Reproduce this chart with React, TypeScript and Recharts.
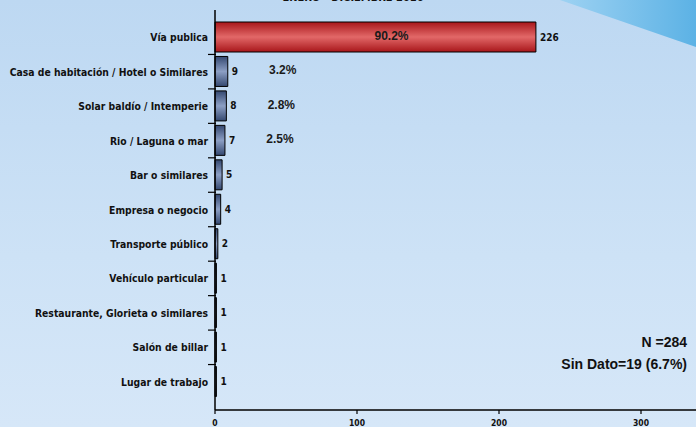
import { BarChart, Bar, XAxis, YAxis, Cell, LabelList } from "recharts";

const categories = [
  "Vía publica",
  "Casa de habitación / Hotel o Similares",
  "Solar baldío / Intemperie",
  "Rio / Laguna o mar",
  "Bar o similares",
  "Empresa o negocio",
  "Transporte público",
  "Vehículo particular",
  "Restaurante, Glorieta o similares",
  "Salón de billar",
  "Lugar de trabajo",
];
const values = [226, 9, 8, 7, 5, 4, 2, 1, 1, 1, 1];
const percents = ["90.2%", "3.2%", "2.8%", "2.5%", "", "", "", "", "", "", ""];
const xTicks = [0, 100, 200, 300];
const title = "ENERO - DICIEMBRE 2016";
const notes = ["N =284", "Sin Dato=19 (6.7%)"];

const data = categories.map((name, i) => ({ name, value: values[i], pct: percents[i] }));

const labelFont = "'DejaVu Sans Condensed', 'DejaVu Sans', sans-serif";
const noteFont = "'Liberation Sans', Arial, sans-serif";

const CategoryTick = (props: any) => {
  const { x, y, payload, index, visibleTicksCount } = props;
  const half = payload && payload.offset ? payload.offset : 17.2;
  return (
    <g>
      <text
        x={x}
        y={y}
        dy={4}
        textAnchor="end"
        fontFamily={labelFont}
        fontWeight="bold"
        fontSize={10.3}
        fill="#111"
      >
        {payload.value}
      </text>
      {index < visibleTicksCount - 1 && (
        <line x1={x} x2={x + 8} y1={y + half} y2={y + half} stroke="#000" strokeWidth={1.2} />
      )}
    </g>
  );
};

const PercentLabel = (props: any) => {
  const { x, y, width, height, value, index } = props;
  if (!value) return null;
  const cx = index === 0 ? x + width * 0.55 : x + width + 55;
  return (
    <text
      x={cx}
      y={y + height / 2 - 1}
      dy={4}
      textAnchor="middle"
      fontFamily={noteFont}
      fontWeight="bold"
      fontSize={12}
      fill="#1a1a1a"
    >
      {value}
    </text>
  );
};

export default function App() {
  return (
    <div
      style={{
        position: "fixed",
        left: 0,
        top: 0,
        width: 696,
        height: 427,
        overflow: "hidden",
        background: "linear-gradient(180deg, #bdd8f2 0%, #cde2f6 60%, #d6e7f8 100%)",
      }}
    >
      <div
        style={{
          position: "absolute",
          left: 0,
          top: 0,
          width: 696,
          height: 60,
          background: "linear-gradient(90deg, #a6d6f4 78%, #5cb2e5 100%)",
          clipPath: "polygon(560px 0, 696px 0, 696px 47px)",
        }}
      />
      <div
        style={{
          position: "absolute",
          left: 0,
          width: 706,
          top: -9,
          textAlign: "center",
          fontFamily: labelFont,
          fontWeight: "bold",
          fontSize: 11,
          color: "#111",
        }}
      >
        {title}
      </div>
      <div style={{ position: "absolute", left: 0, top: 0 }}>
        <BarChart
          width={712}
          height={427}
          data={data}
          layout="vertical"
          margin={{ top: 10, right: 0, bottom: 0, left: 0 }}
        >
          <defs>
            <linearGradient id="redGrad" x1="0" y1="0" x2="0" y2="1">
              <stop offset="0%" stopColor="#a8161a" />
              <stop offset="50%" stopColor="#e26868" />
              <stop offset="100%" stopColor="#a8161a" />
            </linearGradient>
            <linearGradient id="blueGrad" x1="0" y1="0" x2="0" y2="1">
              <stop offset="0%" stopColor="#344870" />
              <stop offset="50%" stopColor="#8c9fc4" />
              <stop offset="100%" stopColor="#344870" />
            </linearGradient>
          </defs>
          <XAxis
            type="number"
            domain={[0, 350]}
            ticks={xTicks}
            height={17}
            tickSize={4}
            tickMargin={6}
            axisLine={{ stroke: "#000", strokeWidth: 1.5 }}
            tickLine={{ stroke: "#000", strokeWidth: 1.2 }}
            tick={{ fill: "#111", fontSize: 8.5, fontWeight: "bold", fontFamily: labelFont }}
          />
          <XAxis
            xAxisId="top"
            orientation="top"
            type="number"
            domain={[0, 350]}
            height={0}
            tick={false}
            tickLine={false}
            axisLine={{ stroke: "#000", strokeWidth: 1.5 }}
          />
          <YAxis
            type="category"
            dataKey="name"
            width={215}
            padding={{ top: 10, bottom: 11 }}
            tickLine={false}
            tickSize={0}
            tickMargin={7}
            interval={0}
            axisLine={{ stroke: "#000", strokeWidth: 1.5 }}
            tick={<CategoryTick />}
          />
          <Bar dataKey="value" barSize={30} stroke="#000" strokeWidth={1} isAnimationActive={false}>
            {data.map((d, i) => (
              <Cell key={d.name} fill={i === 0 ? "url(#redGrad)" : "url(#blueGrad)"} />
            ))}
            <LabelList
              dataKey="value"
              position="right"
              offset={4}
              fill="#111"
              fontSize={10}
              fontWeight="bold"
              fontFamily={labelFont}
            />
            <LabelList dataKey="pct" content={<PercentLabel />} />
          </Bar>
        </BarChart>
      </div>
      <div
        style={{
          position: "absolute",
          right: 9,
          top: 331,
          textAlign: "right",
          fontFamily: noteFont,
          fontWeight: "bold",
          fontSize: 14,
          lineHeight: "22px",
          color: "#111",
        }}
      >
        {notes.map((n) => (
          <div key={n}>{n}</div>
        ))}
      </div>
    </div>
  );
}
